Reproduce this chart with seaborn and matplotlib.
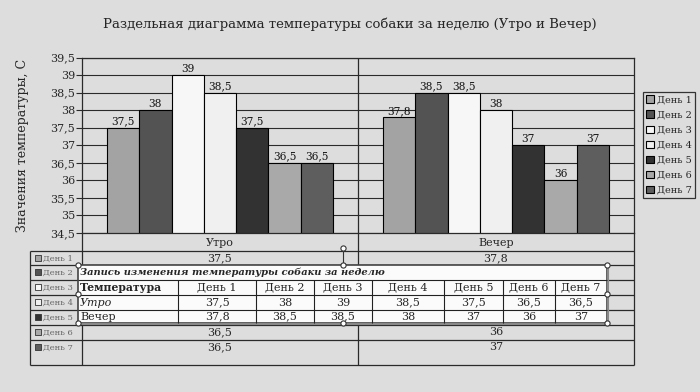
import numpy as np
import pandas as pd
import seaborn as sns
import matplotlib.pyplot as plt
from matplotlib.ticker import FuncFormatter

sns.set_theme(style="white")
plt.rcParams['font.family'] = ['DejaVu Serif']

# data
periods = ["Утро", "Вечер"]
days = ["День 1", "День 2", "День 3", "День 4", "День 5", "День 6", "День 7"]
morning = [37.5, 38, 39, 38.5, 37.5, 36.5, 36.5]
evening = [37.8, 38.5, 38.5, 38, 37, 36, 37]
day_colors = ["#a3a3a3", "#535353", "#f7f7f7", "#f0f0f0", "#323232", "#a9a9a9", "#5e5e5e"]

title = "Раздельная диаграмма температуры собаки за неделю (Утро и Вечер)"
ylabel = "Значения температуры, С"
table_title = "Запись изменения температуры собаки за неделю"
table_head = "Температура"

df = pd.DataFrame({
    "period": np.repeat(periods, len(days)),
    "day": days * 2,
    "temp": morning + evening,
})

def fmt(v):
    return f"{v:g}".replace(".", ",")

bg = "#dddddd"
line_c = "#2a2a2a"

fig = plt.figure(figsize=(7, 3.92), dpi=100, facecolor=bg)
W, H = 700, 392
px0, px1, py0, py1 = 82, 634, 57.5, 233
ax = fig.add_axes([px0 / W, 1 - py1 / H, (px1 - px0) / W, (py1 - py0) / H])
ax.set_facecolor(bg)

sns.barplot(data=df, x="period", y="temp", hue="day", palette=day_colors,
            width=0.82, edgecolor="black", linewidth=0.8, ax=ax, saturation=1)

for cont in ax.containers:
    ax.bar_label(cont, labels=[fmt(b.get_height()) for b in cont],
                 padding=1, fontsize=7.7, color="#111111")

ax.set_ylim(34.5, 39.5)
ax.set_yticks(np.arange(34.5, 39.51, 0.5))
ax.yaxis.set_major_formatter(FuncFormatter(lambda v, p: fmt(round(v, 1))))
ax.yaxis.grid(True, color=line_c, lw=0.8)
ax.set_axisbelow(True)
ax.axvline(0.5, color=line_c, lw=0.9)
ax.set_xticks([])
ax.set_xlabel("")
ax.set_ylabel(ylabel, fontsize=9, labelpad=15)
ax.tick_params(axis="y", length=4, width=0.8, direction="out", pad=1,
               labelsize=8, left=True, color=line_c)
for s in ax.spines.values():
    s.set_color(line_c)
    s.set_linewidth(0.9)

handles, labels = ax.get_legend_handles_labels()
ax.legend_.remove()
leg = fig.legend(handles, labels, loc="upper left",
                 bbox_to_anchor=(643 / W, 1 - 92 / H), fontsize=7,
                 handlelength=0.75, handleheight=0.75, handletextpad=0.3,
                 labelspacing=0.62, borderpad=0.35, borderaxespad=0,
                 fancybox=False, framealpha=1, facecolor=bg, edgecolor="#333333")
leg.get_frame().set_linewidth(0.9)

fig.text(0.5, 1 - 24 / H, title, ha="center", va="center", fontsize=9.5)

# layout axes in pixel units for the data table and the embedded table
lay = fig.add_axes([0, 0, 1, 1])
lay.set_xlim(0, W)
lay.set_ylim(H, 0)
lay.axis("off")

# embedded table geometry
ocols = np.array([78, 178, 256, 314, 372, 444, 503, 555, 607])
orows = np.array([265, 280, 295, 310, 323])

# chart data table
tcols = np.array([30, 82, 358, 634])
theights = [18, 14, 15, 15, 15, 15, 15, 25]
trows = py1 + np.concatenate([[0], np.cumsum(theights)])
lay.hlines(trows[1:], tcols[0], tcols[-1], color=line_c, lw=0.9, zorder=1)
lay.vlines(tcols[0], trows[1], trows[-1], color=line_c, lw=0.9, zorder=1)
lay.vlines(tcols[1:], trows[0], trows[-1], color=line_c, lw=0.9, zorder=1)
ccx = (tcols[1:-1] + tcols[2:]) / 2
for cx, p in zip(ccx, periods):
    lay.text(cx, (trows[0] + trows[1]) / 2 + 1, p, ha="center", va="center",
             fontsize=8, zorder=1)
for i, d in enumerate(days):
    top = trows[i + 1]
    lay.scatter([37.5], [top + 7], marker="s", s=14, color=day_colors[i],
                edgecolor="#333333", linewidth=0.6, zorder=1)
    lay.text(43, top + 7.5, d, ha="left", va="center", fontsize=6, color="#666666", zorder=1)
    if orows[0] <= top < orows[-1]:
        continue  # hidden behind the embedded table
    lay.text(ccx[0], top + 7, fmt(morning[i]), ha="center", va="center", fontsize=8, zorder=1)
    lay.text(ccx[1], top + 7, fmt(evening[i]), ha="center", va="center", fontsize=8, zorder=1)

# embedded table
lay.add_patch(plt.Rectangle((ocols[0], orows[0]), ocols[-1] - ocols[0],
                            orows[-1] - orows[0], facecolor="#fbfbfb",
                            edgecolor="#444444", lw=1.2, zorder=3))
lay.hlines(orows[-1] + 1, ocols[0], ocols[-1] + 1, color="#888888", lw=1.5, zorder=3)
lay.vlines(ocols[-1] + 1, orows[0], orows[-1] + 1, color="#888888", lw=1.5, zorder=3)
lay.hlines(orows[1:-1], ocols[0], ocols[-1], color="#222222", lw=0.8, zorder=3)
lay.vlines(ocols[1:-1], orows[1], orows[-1], color="#222222", lw=0.8, zorder=3)
lay.text(ocols[0] + 2, (orows[0] + orows[1]) / 2, table_title, ha="left", va="center",
         fontsize=7.1, fontweight="bold", fontstyle="italic", zorder=4)
lay.text(ocols[0] + 2, (orows[1] + orows[2]) / 2, table_head, ha="left", va="center",
         fontsize=7.8, fontweight="bold", zorder=4)
lay.text(ocols[0] + 2, (orows[2] + orows[3]) / 2, periods[0], ha="left", va="center",
         fontsize=8, fontstyle="italic", zorder=4)
lay.text(ocols[0] + 2, (orows[3] + orows[4]) / 2, periods[1], ha="left", va="center",
         fontsize=8, zorder=4)
ocx = (ocols[1:-1] + ocols[2:]) / 2
for j, d in enumerate(days):
    lay.text(ocx[j], (orows[1] + orows[2]) / 2, d, ha="center", va="center", fontsize=8, zorder=4)
    lay.text(ocx[j], (orows[2] + orows[3]) / 2, fmt(morning[j]), ha="center", va="center",
             fontsize=8, zorder=4)
    lay.text(ocx[j], (orows[3] + orows[4]) / 2, fmt(evening[j]), ha="center", va="center",
             fontsize=8, zorder=4)

# selection handles
hx = [ocols[0], (ocols[0] + ocols[-1]) / 2, ocols[-1]]
hy = [orows[0], (orows[0] + orows[-1]) / 2, orows[-1]]
pts = [(x, y) for y in hy for x in hx if not (x == hx[1] and y == hy[1])]
lay.vlines(hx[1], orows[0] - 17, orows[0], color="#333333", lw=0.8, zorder=5)
pts.append((hx[1], orows[0] - 17))
lay.scatter([p[0] for p in pts], [p[1] for p in pts], s=14, marker="o",
            facecolor="white", edgecolor="#333333", linewidth=0.8, zorder=6)

fig.savefig("out.png", dpi=100, facecolor=bg)
